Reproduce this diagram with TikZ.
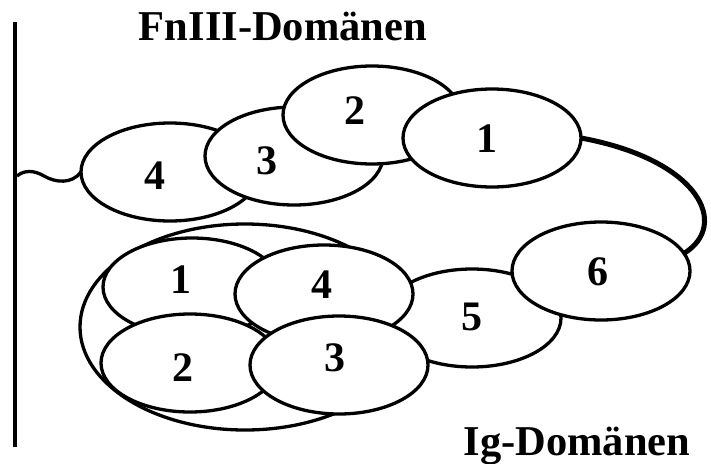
\documentclass[tikz,border=0pt]{standalone}
\usepackage{fontspec}
\setmainfont{Liberation Serif}
\usepackage{tikz}
\usetikzlibrary{shapes.geometric}
\tikzset{
  domell/.style={ellipse,draw=black,fill=white,line width=3.3pt,inner sep=0pt,outer sep=0pt,
                 minimum width=178pt,minimum height=98pt},
  domnum/.style={font=\fontsize{42}{42}\selectfont\bfseries,inner sep=0pt},
  domtitle/.style={font=\fontsize{42.5}{42.5}\selectfont\bfseries,inner sep=0pt,anchor=base},
  memline/.style={line width=4pt},
  linkline/.style={line width=5pt},
  tailline/.style={line width=3.3pt},
}
\begin{document}
\begin{tikzpicture}[x=1pt,y=-1pt]
  \useasboundingbox (0,0) rectangle (711,463);
  % membrane
  \coordinate (memtop) at (15,22);
  \coordinate (membot) at (15,447);
  \draw[memline] (memtop) -- (membot);
  % domains, drawn back to front
  \node[domell,minimum width=330pt,minimum height=206pt] (ig) at (245,327) {};
  \foreach \n/\x/\y in {f4/170/172,f3/294/156,f2/372/115,f1/492/138,
                        i5/472/318,i6/601/271,i1/192/287,i2/190/363,i4/324/294,i3/339/365}
    {\node[domell] (\n) at (\x,\y) {};}
  \foreach \n/\x/\y/\lab in {f4/155/176/4,f3/267/161/3,f2/355/111/2,f1/487/139/1,
                             i1/181/280/1,i4/322/285/4,i2/183/368/2,i3/335/358/3,
                             i5/472/317/5,i6/598/272/6}
    {\node[domnum] (\n num) at (\x,\y) {\lab};}
  % tail and linker
  \coordinate (tail) at (17,176);
  \draw[tailline] (tail) .. controls (24,170) and (34,170) .. (44,176)
                        .. controls (56,183) and (72,184) .. (f4.west);
  \draw[linkline] (f1.east) .. controls (700,160) and (730,225) .. (i6.12);
  % titles
  \node[domtitle] (fntitle) at (283,40) {FnIII-Domänen};
  \node[domtitle] (igtitle) at (577,455) {Ig-Domänen};
\end{tikzpicture}
\end{document}
